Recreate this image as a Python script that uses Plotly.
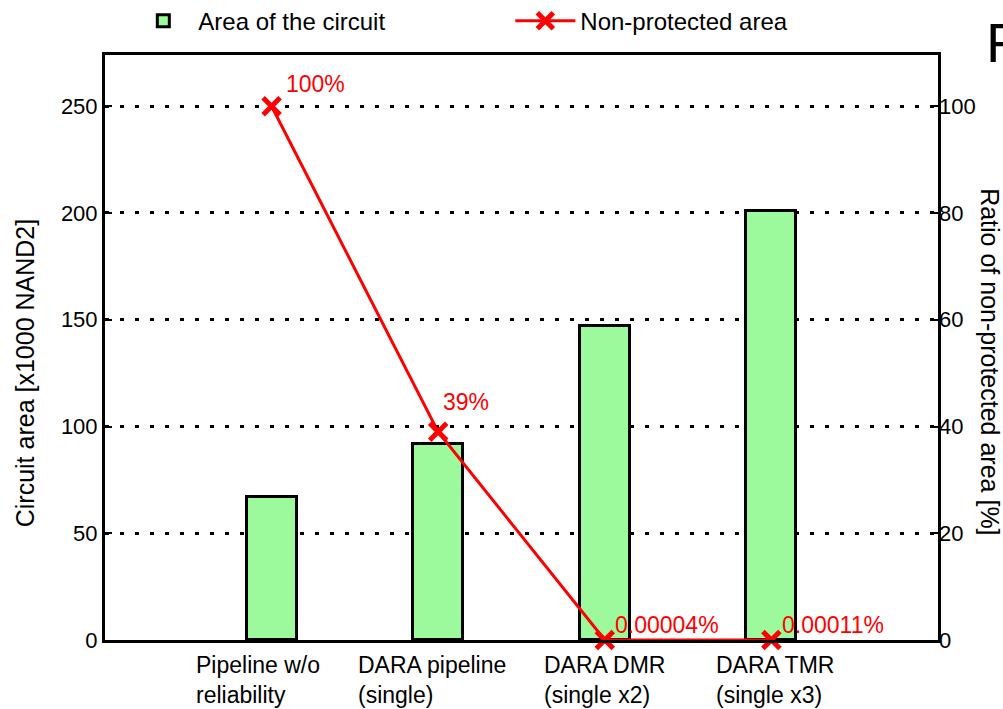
import plotly.graph_objects as go

categories = ["Pipeline w/o<br>reliability", "DARA pipeline<br>(single)",
              "DARA DMR<br>(single x2)", "DARA TMR<br>(single x3)"]
circuit_area = [67, 92, 147, 201]
non_protected = [100, 39, 0.00004, 0.00011]
np_labels = ["100%", "39%", "0.00004%", "0.00011%"]
left_ticks = [0, 50, 100, 150, 200, 250]
right_ticks = [0, 20, 40, 60, 80, 100]

FONT = "Liberation Sans, Arial, sans-serif"
label_shift = [(12, 22), (3, 30), (8, 15), (9, 15)]
cat_shift = [-14, -6, 0, 4]

fig = go.Figure()
fig.add_trace(go.Bar(
    x=categories, y=circuit_area, name="Area of the circuit",
    width=0.3, marker=dict(color="#9cfa9c", line=dict(color="black", width=3)),
))
fig.add_trace(go.Scatter(
    x=categories, y=non_protected, name="Non-protected area", yaxis="y2",
    mode="lines+markers", cliponaxis=False,
    line=dict(color="#ff0000", width=3),
    marker=dict(symbol="x-thin", size=17, color="#ff0000",
                line=dict(color="#ff0000", width=5)),
))

annotations = []
for c, v, t, (dx, dy) in zip(categories, non_protected, np_labels, label_shift):
    annotations.append(dict(x=c, y=v, xref="x", yref="y2", text=t, showarrow=False,
                            xanchor="left", yanchor="middle", xshift=dx, yshift=dy,
                            font=dict(family=FONT, size=23, color="#ff0000")))
for c, dx in zip(categories, cat_shift):
    annotations.append(dict(x=c, y=0, xref="x", yref="paper", text=c, showarrow=False,
                            xanchor="center", yanchor="top", align="left",
                            xshift=dx, yshift=-10,
                            font=dict(family=FONT, size=23, color="black")))
annotations.append(dict(x=-0.096, y=0.456, xref="paper", yref="paper",
                        xanchor="center", yanchor="middle",
                        text="Circuit area [x1000 NAND2]", textangle=-90, showarrow=False,
                        font=dict(family=FONT, size=25, color="black")))
annotations.append(dict(x=1.0624, y=0.475, xref="paper", yref="paper",
                        xanchor="center", yanchor="middle",
                        text="Ratio of non-protected area [%]", textangle=90, showarrow=False,
                        font=dict(family=FONT, size=25, color="black")))
annotations.append(dict(x=1.055, y=1.022, xref="paper", yref="paper", text="F",
                        xanchor="left", yanchor="middle", showarrow=False,
                        font=dict(family=FONT, size=56, color="black")))

fig.update_layout(
    width=1003, height=709,
    margin=dict(l=105, r=65, t=55, b=69, autoexpand=False),
    plot_bgcolor="white", paper_bgcolor="white",
    font=dict(family=FONT, size=22, color="black"),
    showlegend=True,
    legend=dict(orientation="h", x=0.028, y=1.058, xanchor="left", yanchor="middle",
                entrywidth=307, entrywidthmode="pixels", itemwidth=60,
                font=dict(family=FONT, size=24, color="black"),
                bgcolor="rgba(0,0,0,0)"),
    xaxis=dict(type="category", range=[-1, 4], showticklabels=False, ticks="",
               showline=True, linecolor="black", linewidth=3, mirror=True,
               showgrid=False, zeroline=False),
    yaxis=dict(range=[0, 274], tickvals=left_ticks, ticks="inside", ticklen=7,
               tickwidth=2, tickcolor="black", showline=True, linecolor="black",
               linewidth=3, mirror=True, showgrid=True, gridcolor="black",
               gridwidth=2.5, griddash="4px,11px", zeroline=False,
               tickfont=dict(family=FONT, size=22, color="black")),
    yaxis2=dict(range=[0, 109.6], tickvals=right_ticks, overlaying="y", side="right",
                ticks="inside", ticklen=7, tickwidth=2, tickcolor="black",
                showgrid=False, zeroline=False, showline=False,
                tickfont=dict(family=FONT, size=22, color="black")),
    annotations=annotations,
    bargap=0,
)

fig.write_html("out.html", config={"displayModeBar": False},
               post_script="document.body.style.margin='0';")
